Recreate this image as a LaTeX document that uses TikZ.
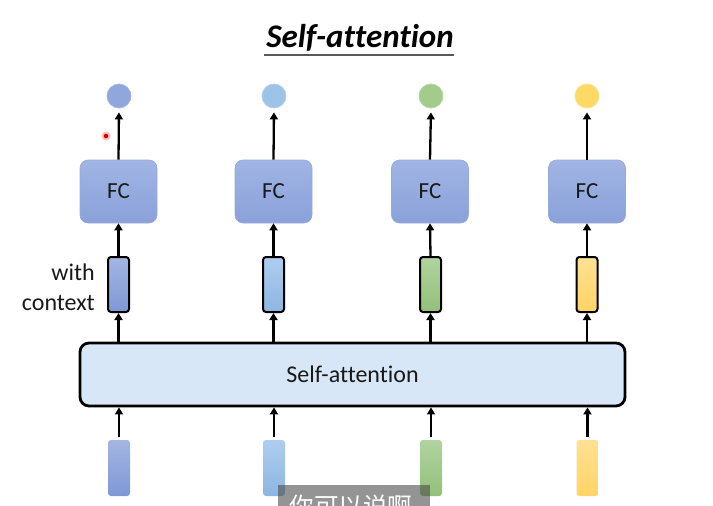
\documentclass[tikz,border=0pt]{standalone}
\usepackage{fontspec}
\setmainfont{Carlito}[Ligatures=NoCommon]
\newfontfamily\cjk{Noto Sans CJK SC}
\usetikzlibrary{arrows.meta,calc}
\definecolor{vblue}{HTML}{8FA7DC}
\definecolor{vblueT}{HTML}{A3B6E3}
\definecolor{vblueB}{HTML}{7F98D5}
\definecolor{vlight}{HTML}{9DC3E6}
\definecolor{vlightT}{HTML}{AECDEF}
\definecolor{vlightB}{HTML}{8DB6E2}
\definecolor{vgreen}{HTML}{A3CB8C}
\definecolor{vgreenT}{HTML}{B0D4A0}
\definecolor{vgreenB}{HTML}{92C078}
\definecolor{vyellow}{HTML}{FFD966}
\definecolor{vyellowT}{HTML}{FFE193}
\definecolor{vyellowB}{HTML}{FFD466}
\definecolor{fcT}{HTML}{A0B5E4}
\definecolor{fcB}{HTML}{8AA1DA}
\definecolor{safill}{HTML}{D8E7F7}
\tikzset{
  x=1pt,y=-1pt,
  arr/.style={line width=2.3pt,-{Triangle[width=8pt,length=7pt]}},
  fcbox/.style={rectangle,rounded corners=8pt,minimum width=77pt,minimum height=63pt,
    top color=fcT,bottom color=fcB,draw=fcB!90!white,line width=0.6pt,font=\fontsize{23}{26}\selectfont,text=black!90},
  ctxvec/.style={rectangle,rounded corners=3pt,minimum width=21pt,minimum height=55pt,inner sep=0pt,
    draw=black,line width=2pt},
  invec/.style={rectangle,rounded corners=3pt,minimum width=22pt,minimum height=56pt,inner sep=0pt},
  outdot/.style={circle,minimum size=24pt,inner sep=0pt,line width=0.8pt},
  sabox/.style={rectangle,rounded corners=9pt,minimum width=545pt,minimum height=63pt,
    draw=black,line width=2.8pt,fill=safill,font=\fontsize{24}{28}\selectfont,text=black!90},
}
\begin{document}
\begin{tikzpicture}
\useasboundingbox (0,0) rectangle (713,506);
% title
\node[font=\fontsize{33}{36}\selectfont\bfseries\itshape,inner sep=0pt,anchor=base] (title) at (360,47) {Self-attention};
\coordinate (ulL) at ($(title.base west)+(-2,8)$);
\coordinate (ulR) at ($(title.base east)+(0,8)$);
\draw[line width=1.6pt,black!65] (ulL) -- (ulR);
% output dots
\node[outdot,fill=vblue,draw=vblue!80!white] (o1) at (119,96) {};
\node[outdot,fill=vlight,draw=vlight!80!white] (o2) at (274,96) {};
\node[outdot,fill=vgreen,draw=vgreen!80!white] (o3) at (431,96) {};
\node[outdot,fill=vyellow,draw=vyellow!80!white] (o4) at (587,96) {};
% FC boxes
\node[fcbox] (f1) at (118.5,191.5) {FC};
\node[fcbox] (f2) at (273.5,191.5) {FC};
\node[fcbox] (f3) at (430,191.5) {FC};
\node[fcbox] (f4) at (587,191.5) {FC};
% context vectors
\node[ctxvec,top color=vblueT,bottom color=vblueB] (c1) at (118.5,284.5) {};
\node[ctxvec,top color=vlightT,bottom color=vlightB] (c2) at (273.5,284.5) {};
\node[ctxvec,top color=vgreenT,bottom color=vgreenB] (c3) at (430.5,284.5) {};
\node[ctxvec,top color=vyellowT,bottom color=vyellowB] (c4) at (587,284.5) {};
\node[anchor=east,align=right,font=\fontsize{24}{30}\selectfont,inner sep=0pt,text=black!90] (wc) at (95,287) {with\\context};
% self-attention box
\node[sabox] (sa) at (352.5,374.5) {Self-attention};
% input vectors
\node[invec,top color=vblueT,bottom color=vblueB] (i1) at (119,468) {};
\node[invec,top color=vlightT,bottom color=vlightB] (i2) at (274,468) {};
\node[invec,top color=vgreenT,bottom color=vgreenB] (i3) at (431,468) {};
\node[invec,top color=vyellowT,bottom color=vyellowB] (i4) at (587.5,468) {};
% arrows
\foreach \k in {1,2,3,4}{
  \draw[arr,shorten <=3pt] (i\k.north) -- (sa.south -| i\k.north);
  \draw[arr] (sa.north -| c\k.south) -- (c\k.south);
  \draw[arr] (c\k.north) -- (f\k.south);
  \draw[arr,shorten >=4pt] (f\k.north) -- (o\k.south);
}
% laser pointer
\node[circle,fill=red!25,minimum size=9pt,inner sep=0pt] (laser) at (106,136) {};
\node[circle,fill=red!85!black,minimum size=4.5pt,inner sep=0pt] (laserc) at (laser.center) {};
% subtitle overlay
\begin{scope}
\clip (0,0) rectangle (713,506);
\node[rectangle,fill=black!70,opacity=0.6,minimum width=152pt,minimum height=30pt,anchor=north west,inner sep=0pt] (sub) at (278,485) {};
\node[font=\cjk\fontsize{24.5}{28}\selectfont,text=white,anchor=base,inner sep=0pt] (subt) at (351,515) {你可以说啊};
\end{scope}
\end{tikzpicture}
\end{document}
